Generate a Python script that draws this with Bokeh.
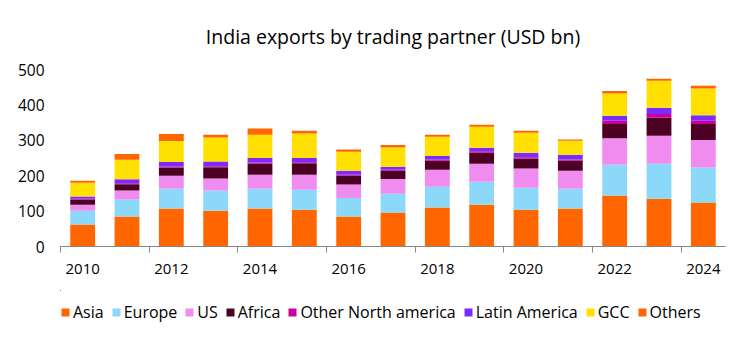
from bokeh.plotting import figure
from bokeh.layouts import column
from bokeh.models import (ColumnDataSource, FixedTicker, Legend, LegendItem, Range1d)
from bokeh.embed import file_html
from bokeh.resources import INLINE

years = list(range(2010, 2025))
asia = [62, 85, 107, 101, 107, 104, 85, 96, 110, 118, 104, 107, 144, 135, 124]
europe = [39, 48, 56, 57, 56, 56, 52, 53, 59, 65, 62, 56, 87, 99, 99]
us = [17, 25, 37, 34, 40, 43, 38, 42, 48, 51, 54, 51, 75, 79, 78]
africa = [15, 18, 23, 32, 31, 32, 25, 23, 25, 31, 28, 28, 40, 51, 45]
other_na = [2, 3, 3, 3, 3, 3, 3, 3, 4, 4, 4, 4, 9, 10, 9]
latin_america = [6, 11, 13, 13, 13, 12, 11, 8, 10, 10, 13, 13, 14, 18, 16]
gcc = [39, 55, 59, 68, 66, 69, 54, 55, 54, 59, 56, 40, 63, 76, 75]
others = [6, 16, 20, 8, 17, 8, 6, 7, 6, 6, 6, 3, 7, 6, 8]

series_names = ["Asia", "Europe", "US", "Africa", "Other North america",
                "Latin America", "GCC", "Others"]
series_keys = ["asia", "europe", "us", "africa", "other_na", "latin", "gcc", "others"]
colors = ["#FF6600", "#8CD8F8", "#F08CF0", "#4B0024", "#CC0099",
          "#7A2CFF", "#FFE000", "#FF6600"]
y_ticks = [0, 100, 200, 300, 400, 500]
x_labels = [2010, 2012, 2014, 2016, 2018, 2020, 2022, 2024]

source = ColumnDataSource(dict(year=years, asia=asia, europe=europe, us=us,
                               africa=africa, other_na=other_na,
                               latin=latin_america, gcc=gcc, others=others))

FONT = "Open Sans"

# ---- main chart ----
p = figure(width=744, height=290, output_backend="svg", toolbar_location=None,
           x_range=Range1d(2009.5, 2024.5), y_range=Range1d(0, 500),
           min_border_left=60, min_border_right=19, min_border_top=69,
           min_border_bottom=44)
p.outline_line_color = None
p.xgrid.grid_line_color = None
p.ygrid.grid_line_color = None

p.vbar_stack(series_keys, x="year", width=0.56, color=colors,
             line_color=None, source=source)

p.title.text = "India exports by trading partner (USD bn)"
p.title.align = "center"
p.title.text_font = FONT
p.title.text_font_size = "19.5px"
p.title.text_font_style = "normal"
p.title.text_color = "#000000"
p.title.offset = 0
p.title.standoff = 39

xa = p.xaxis[0]
xa.ticker = FixedTicker(ticks=x_labels,
                        minor_ticks=[y - 0.5 for y in years[::2]] + [2025.5])
xa.major_tick_line_color = None
xa.minor_tick_line_color = "#868686"
xa.minor_tick_in = 0
xa.minor_tick_out = 6
xa.axis_line_color = "#868686"
xa.axis_line_width = 1
xa.major_label_text_font = FONT
xa.major_label_text_font_size = "15px"
xa.major_label_text_color = "#000000"
xa.major_label_standoff = 11

ya = p.yaxis[0]
ya.ticker = FixedTicker(ticks=y_ticks)
ya.axis_line_color = None
ya.major_tick_line_color = None
ya.minor_tick_line_color = None
ya.major_label_text_font = FONT
ya.major_label_text_font_size = "15.5px"
ya.major_label_text_color = "#000000"
ya.major_label_standoff = 10

# ---- legend strip (its bars lie outside its ranges; only the legend shows) ----
lg = figure(width=744, height=53, output_backend="svg", toolbar_location=None,
            x_range=Range1d(5000, 5001), y_range=Range1d(-20, -10),
            min_border=0, x_axis_location=None, y_axis_location=None)
lg.outline_line_color = None
lg.xgrid.grid_line_color = None
lg.ygrid.grid_line_color = None
lg_renderers = lg.vbar_stack(series_keys, x="year", width=0.56, color=colors,
                             line_color=None, source=source)

items = [LegendItem(label=n, renderers=[r]) for n, r in zip(series_names, lg_renderers)]
legend = Legend(items=items, orientation="horizontal", location=(0, 20),
                label_text_font=FONT, label_text_font_size="16px",
                label_text_color="#000000", glyph_width=10, glyph_height=10,
                label_standoff=3, spacing=7, padding=0, margin=0,
                border_line_color=None, background_fill_alpha=0)
lg.add_layout(legend, "center")

layout = column(p, lg, spacing=0)
open("out.html", "w").write(file_html(layout, INLINE))
